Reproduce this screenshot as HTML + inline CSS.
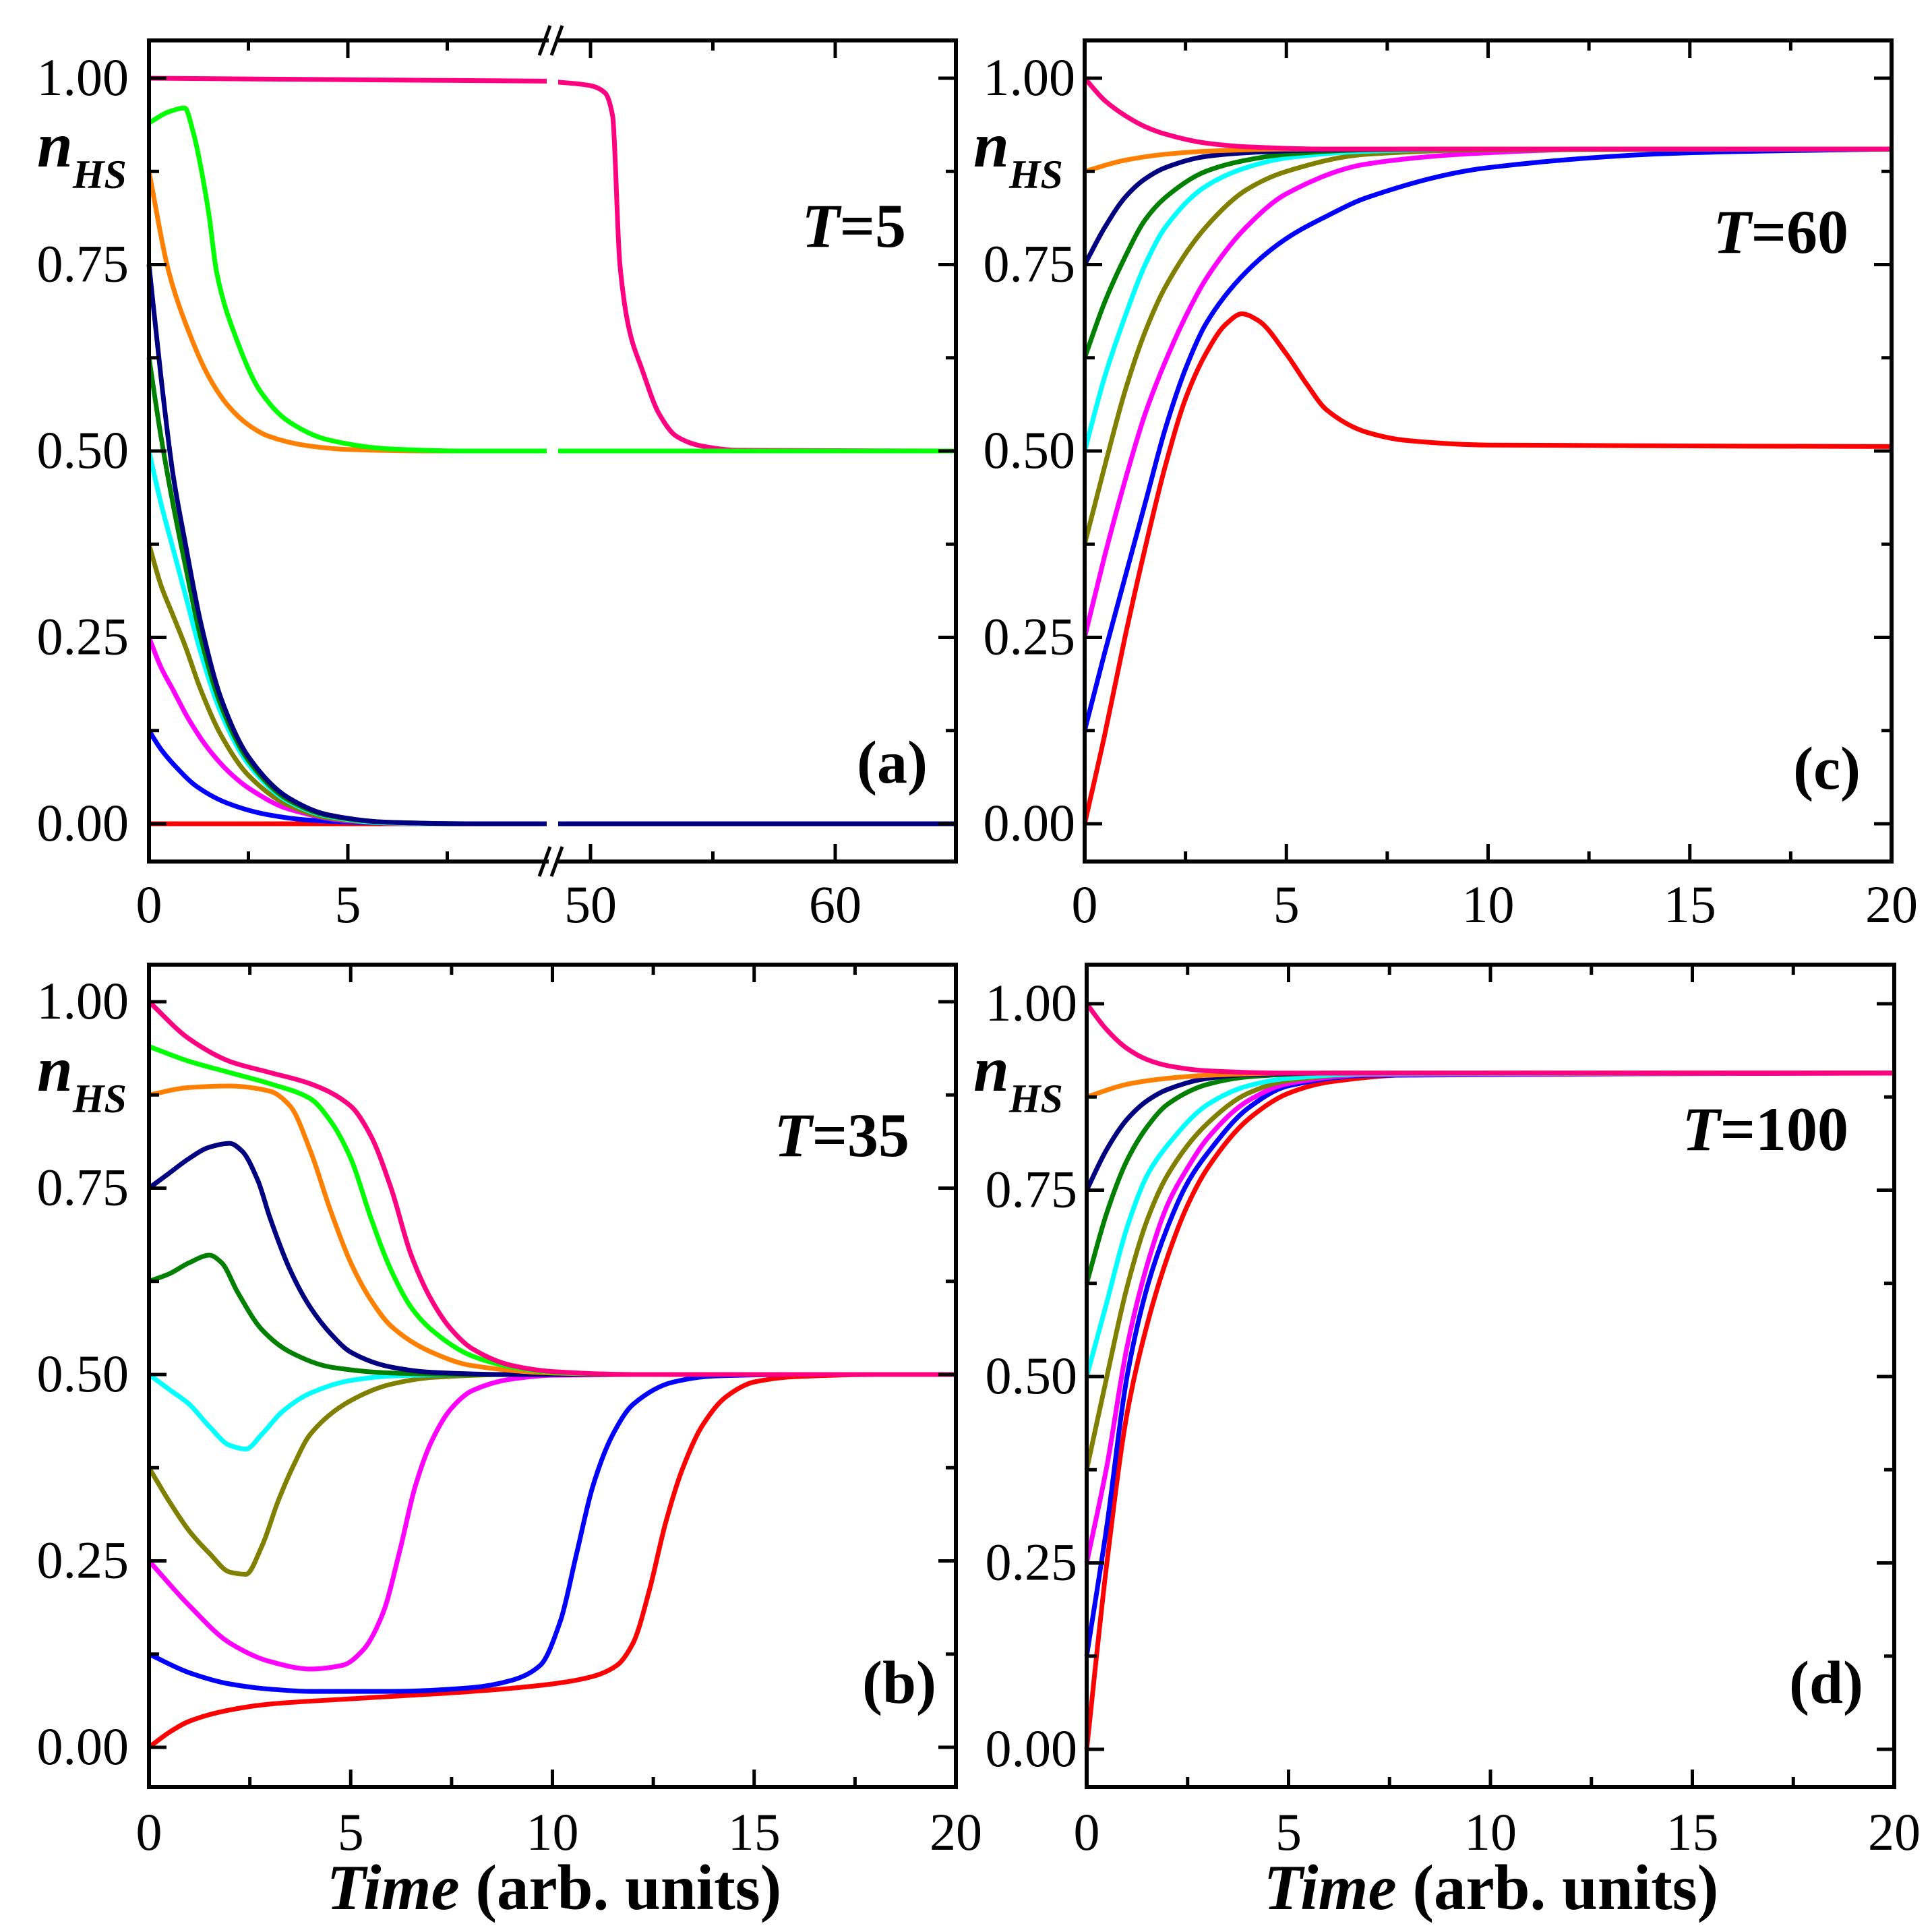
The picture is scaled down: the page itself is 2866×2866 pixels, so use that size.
<!DOCTYPE html>
<html><head><meta charset="utf-8">
<style>
html,body{margin:0;padding:0;background:#fff;}
svg{display:block;}
text{font-family:"Liberation Serif",serif;fill:#000;}
</style></head>
<body>
<svg id="chart" width="2866" height="2866" viewBox="0 0 2866 2866" xmlns="http://www.w3.org/2000/svg"></svg>
<script>
// ---- data: [time, n_HS] pairs per series ----
// Panel (a) T=5 (broken axis 0..10 | 48.6..65)
const a_pink=[[0,1],[5,0.998],[10,0.996],[48.6,0.995],[50,0.99],[50.6,0.98],[50.9,0.95],[51.2,0.75],[51.6,0.66],[52.1,0.61],[52.8,0.55],[53.5,0.52],[54.5,0.507],[56,0.501],[65,0.5]];
const a_green=[[0,0.94],[0.5,0.955],[0.9,0.96],[1.1,0.93],[1.5,0.82],[1.7,0.74],[2.2,0.65],[2.8,0.58],[3.5,0.54],[4.5,0.515],[6,0.503],[8,0.5],[10,0.5],[48.6,0.5],[65,0.5]];
const a_orange=[[0,0.875],[0.5,0.74],[1,0.66],[1.5,0.6],[2,0.56],[2.5,0.535],[3,0.52],[4,0.507],[5,0.502],[7,0.5],[10,0.5],[48.6,0.5],[65,0.5]];
const a_navy=[[0,0.75],[0.3,0.6],[0.6,0.47],[0.9,0.38],[1.3,0.27],[1.8,0.17],[2.5,0.09],[3.5,0.035],[4.5,0.012],[6,0.002],[8,0],[10,0],[48.6,0],[65,0]];
const a_dgreen=[[0,0.625],[0.3,0.52],[0.6,0.43],[0.9,0.35],[1.3,0.25],[1.8,0.16],[2.5,0.085],[3.5,0.032],[4.5,0.011],[6,0.002],[8,0],[10,0]];
const a_cyan=[[0,0.5],[0.3,0.43],[0.6,0.37],[0.9,0.31],[1.3,0.23],[1.8,0.15],[2.5,0.08],[3.5,0.03],[4.5,0.01],[6,0.001],[8,0],[10,0]];
const a_olive=[[0,0.375],[0.3,0.32],[0.6,0.28],[0.9,0.24],[1.3,0.18],[1.8,0.12],[2.5,0.065],[3.5,0.025],[4.5,0.008],[6,0.001],[8,0],[10,0]];
const a_magenta=[[0,0.25],[0.3,0.21],[0.6,0.18],[1,0.14],[1.5,0.1],[2,0.07],[2.5,0.048],[3.5,0.02],[5,0.004],[7,0],[10,0]];
const a_blue=[[0,0.125],[0.3,0.1],[0.7,0.075],[1.2,0.05],[2,0.027],[3,0.012],[4,0.005],[6,0.001],[8,0],[10,0]];
const a_red=[[0,0],[10,0]];
// Panel (c) T=60
const c_pink=[[0,1],[0.5,0.97],[1,0.95],[1.5,0.935],[2,0.925],[3,0.913],[4,0.908],[6,0.905],[20,0.905]];
const c_orange=[[0,0.875],[1,0.89],[2,0.898],[3,0.902],[5,0.905],[20,0.905]];
const c_navy=[[0,0.75],[0.5,0.8],[1,0.84],[1.5,0.865],[2,0.88],[3,0.895],[4,0.9],[6,0.904],[8,0.905],[20,0.905]];
const c_dgreen=[[0,0.625],[0.5,0.7],[1,0.76],[1.5,0.81],[2,0.84],[3,0.875],[4,0.89],[5,0.898],[7,0.904],[9,0.905],[20,0.905]];
const c_cyan=[[0,0.5],[0.5,0.6],[1,0.68],[1.5,0.75],[2,0.8],[3,0.855],[4,0.88],[5,0.893],[7,0.902],[10,0.905],[20,0.905]];
const c_olive=[[0,0.375],[0.5,0.48],[1,0.58],[1.5,0.66],[2,0.72],[3,0.8],[4,0.85],[5,0.875],[7,0.898],[10,0.904],[20,0.905]];
const c_magenta=[[0,0.25],[0.5,0.36],[1,0.46],[1.5,0.55],[2,0.62],[2.5,0.68],[3,0.73],[4,0.8],[5,0.845],[7,0.885],[10,0.9],[13,0.905],[20,0.905]];
const c_blue=[[0,0.125],[0.5,0.23],[1,0.33],[1.5,0.43],[2,0.53],[2.5,0.61],[3,0.67],[4,0.74],[5,0.785],[6,0.815],[7,0.84],[10,0.88],[15,0.9],[20,0.905]];
const c_red=[[0,0],[0.5,0.12],[1,0.25],[1.5,0.37],[2,0.48],[2.5,0.57],[3,0.63],[3.5,0.67],[3.9,0.684],[4.3,0.675],[5,0.63],[5.5,0.59],[6,0.555],[7,0.525],[8,0.514],[10,0.508],[20,0.506]];
// Panel (b) T=35
const b_pink=[[0,1],[1,0.95],[2,0.92],[3,0.905],[4,0.89],[5,0.86],[5.5,0.82],[6,0.75],[6.5,0.66],[7,0.6],[7.5,0.56],[8,0.535],[9,0.512],[10,0.504],[12,0.5],[20,0.5]];
const b_green=[[0,0.94],[1,0.92],[2,0.905],[3,0.89],[4,0.87],[4.5,0.84],[5,0.79],[5.5,0.71],[6,0.64],[6.5,0.59],[7,0.56],[8,0.525],[9,0.51],[10,0.503],[12,0.5],[20,0.5]];
const b_orange=[[0,0.875],[1,0.885],[2,0.887],[3,0.88],[3.5,0.86],[4,0.8],[4.5,0.72],[5,0.65],[5.5,0.6],[6,0.565],[7,0.53],[8,0.512],[10,0.502],[12,0.5],[20,0.5]];
const b_navy=[[0,0.75],[0.5,0.77],[1,0.79],[1.5,0.805],[2,0.81],[2.3,0.8],[2.7,0.76],[3,0.71],[3.5,0.64],[4,0.59],[4.5,0.555],[5,0.53],[6,0.51],[7,0.503],[9,0.5],[20,0.5]];
const b_dgreen=[[0,0.625],[0.5,0.635],[1,0.65],[1.5,0.66],[1.8,0.65],[2.2,0.61],[2.8,0.56],[3.5,0.53],[4.5,0.51],[6,0.502],[8,0.5],[20,0.5]];
const b_cyan=[[0,0.5],[0.5,0.48],[1,0.46],[1.5,0.43],[2,0.405],[2.4,0.4],[2.8,0.42],[3.3,0.45],[4,0.475],[5,0.492],[6,0.498],[8,0.5],[20,0.5]];
const b_olive=[[0,0.375],[0.5,0.33],[1,0.29],[1.5,0.26],[2,0.235],[2.4,0.232],[2.8,0.27],[3.2,0.33],[3.6,0.38],[4,0.42],[5,0.465],[6,0.487],[7,0.496],[9,0.5],[20,0.5]];
const b_magenta=[[0,0.25],[1,0.19],[2,0.14],[3,0.115],[4,0.105],[4.8,0.11],[5.3,0.13],[5.8,0.18],[6.2,0.26],[6.6,0.35],[7,0.41],[7.5,0.455],[8,0.478],[9,0.494],[10,0.499],[12,0.5],[20,0.5]];
const b_blue=[[0,0.125],[1,0.1],[2,0.085],[3,0.078],[4,0.075],[6,0.075],[8,0.08],[9,0.09],[9.7,0.11],[10.2,0.17],[10.6,0.26],[11,0.35],[11.5,0.42],[12,0.46],[13,0.49],[14,0.498],[16,0.5],[20,0.5]];
const b_red=[[0,0],[0.5,0.02],[1,0.035],[2,0.05],[3,0.058],[5,0.065],[8,0.075],[10,0.085],[11,0.095],[11.6,0.11],[12,0.14],[12.4,0.21],[12.8,0.3],[13.2,0.37],[13.7,0.43],[14.3,0.47],[15,0.49],[16,0.497],[18,0.5],[20,0.5]];
// Panel (d) T=100
const d_pink=[[0,1],[0.5,0.965],[1,0.94],[1.5,0.925],[2,0.917],[3,0.91],[5,0.907],[20,0.907]];
const d_orange=[[0,0.875],[1,0.892],[2,0.9],[3,0.904],[5,0.907],[20,0.907]];
const d_navy=[[0,0.75],[0.5,0.805],[1,0.845],[1.5,0.87],[2,0.885],[3,0.9],[4,0.905],[6,0.907],[20,0.907]];
const d_dgreen=[[0,0.625],[0.5,0.72],[1,0.79],[1.5,0.835],[2,0.865],[3,0.892],[4,0.902],[6,0.907],[20,0.907]];
const d_cyan=[[0,0.5],[0.5,0.6],[1,0.7],[1.5,0.77],[2,0.81],[3,0.865],[4,0.89],[5,0.9],[7,0.906],[20,0.907]];
const d_olive=[[0,0.375],[0.5,0.5],[1,0.62],[1.5,0.71],[2,0.77],[3,0.84],[4,0.88],[5,0.897],[7,0.906],[20,0.907]];
const d_magenta=[[0,0.25],[0.5,0.38],[1,0.54],[1.5,0.65],[2,0.73],[2.5,0.78],[3,0.82],[4,0.87],[5,0.893],[7,0.905],[20,0.907]];
const d_blue=[[0,0.125],[0.5,0.3],[1,0.5],[1.5,0.62],[2,0.7],[2.5,0.76],[3,0.8],[4,0.86],[5,0.89],[7,0.904],[20,0.907]];
const d_red=[[0,0],[0.5,0.25],[1,0.45],[1.5,0.57],[2,0.66],[2.5,0.73],[3,0.78],[4,0.845],[5,0.88],[6,0.895],[8,0.905],[10,0.907],[20,0.907]];

const colors={pink:'#ff0080',green:'#00ff00',orange:'#ff8000',navy:'#000080',dgreen:'#008000',cyan:'#00ffff',olive:'#808000',magenta:'#ff00ff',blue:'#0000ff',red:'#ff0000'};
const xTicks5=[0,5,10,15,20];
const yTicks=[0,0.25,0.5,0.75,1];
const yTickLabels=['0.00','0.25','0.50','0.75','1.00'];

const NS='http://www.w3.org/2000/svg';
const svg=document.getElementById('chart');
function mk(tag,attrs,parent){const e=document.createElementNS(NS,tag);for(const k in attrs)e.setAttribute(k,attrs[k]);(parent||svg).appendChild(e);return e;}
function txt(s,x,y,size,anchor,weight,style,parent){const t=mk('text',{x:x,y:y,'font-size':size,'text-anchor':anchor||'start','font-weight':weight||'normal','font-style':style||'normal'},parent);t.textContent=s;return t;}
// monotone cubic (Fritsch-Carlson) path in pixel space
function pathFrom(pts){
  const n=pts.length;
  const dx=[],m=[],t=new Array(n);
  for(let i=0;i<n-1;i++){dx.push(pts[i+1][0]-pts[i][0]);m.push((pts[i+1][1]-pts[i][1])/dx[i]);}
  t[0]=m[0];t[n-1]=m[n-2];
  for(let i=1;i<n-1;i++){
    if(m[i-1]*m[i]<=0)t[i]=0;
    else{const w1=2*dx[i]+dx[i-1],w2=dx[i]+2*dx[i-1];t[i]=(w1+w2)/(w1/m[i-1]+w2/m[i]);}
  }
  let d='M'+pts[0][0].toFixed(1)+','+pts[0][1].toFixed(1);
  for(let i=0;i<n-1;i++){
    const h=dx[i];
    d+=' C'+(pts[i][0]+h/3).toFixed(1)+','+(pts[i][1]+t[i]*h/3).toFixed(1)+' '+(pts[i+1][0]-h/3).toFixed(1)+','+(pts[i+1][1]-t[i+1]*h/3).toFixed(1)+' '+pts[i+1][0].toFixed(1)+','+pts[i+1][1].toFixed(1);
  }
  return d;
}

const panels=[
 {id:'a',L:221,R:1418,T:60,B:1278,y1:116,y0:1222,broken:true,T_label:'5',
  series:{red:a_red,blue:a_blue,magenta:a_magenta,olive:a_olive,cyan:a_cyan,dgreen:a_dgreen,navy:a_navy,orange:a_orange,pink:a_pink,green:a_green},
  tLab:[1344,366],pLab:[1376,1161],nLab:[55,247],xlabY:1368},
 {id:'c',L:1609,R:2806,T:60,B:1278,y1:116,y0:1222,T_label:'60',
  series:{red:c_red,blue:c_blue,magenta:c_magenta,olive:c_olive,cyan:c_cyan,dgreen:c_dgreen,navy:c_navy,orange:c_orange,pink:c_pink},
  tLab:[2742,375],pLab:[2760,1170],nLab:[1444,247],xlabY:1368},
 {id:'b',L:221,R:1418,T:1431,B:2651,y1:1486,y0:2592,T_label:'35',
  series:{red:b_red,blue:b_blue,magenta:b_magenta,olive:b_olive,cyan:b_cyan,dgreen:b_dgreen,navy:b_navy,orange:b_orange,green:b_green,pink:b_pink},
  tLab:[1349,1715],pLab:[1389,2526],nLab:[55,1618],xlabY:2744,timeX:822},
 {id:'d',L:1612,R:2810,T:1431,B:2651,y1:1489,y0:2595,T_label:'100',
  series:{red:d_red,blue:d_blue,magenta:d_magenta,olive:d_olive,cyan:d_cyan,dgreen:d_dgreen,navy:d_navy,orange:d_orange,pink:d_pink},
  tLab:[2742,1706],pLab:[2764,2526],nLab:[1444,1618],xlabY:2744,timeX:2212}
];

panels.forEach(p=>{
  const g=mk('g',{});
  
  
  const yS=v=>p.y0-(p.y0-p.y1)*v;
  let xS, segs;
  if(p.broken){
    xS=t=> t<30 ? p.L+t*59 : 876+(t-50)*36.3;
    segs=[[0,30],[30,100]];
  } else {
    xS=t=>p.L+(p.R-p.L)*t/20;
    segs=[[0,100]];
  }
  Object.keys(p.series).forEach(k=>{
    const data=p.series[k];
    segs.forEach(s=>{
      const pts=data.filter(d=>d[0]>=s[0]&&d[0]<s[1]).map(d=>[xS(d[0]),yS(d[1])]);
      if(pts.length<2)return;
      const el=mk('path',{d:pathFrom(pts),fill:'none',stroke:colors[k],'stroke-width':7,'stroke-linejoin':'round'},g);
      
      
    });
  });
  const fr=mk('rect',{x:p.L,y:p.T,width:p.R-p.L,height:p.B-p.T,fill:'none',stroke:'#000','stroke-width':6},g);
  
  
  for(let i=0;i<=8;i++){
    const v=i*0.125, y=yS(v), len=(i%2===0)?26:15;
    mk('line',{x1:p.L,y1:y,x2:p.L+len,y2:y,stroke:'#000','stroke-width':5},g);
    mk('line',{x1:p.R,y1:y,x2:p.R-len,y2:y,stroke:'#000','stroke-width':5},g);
  }
  yTicks.forEach((v,i)=>{
    const t=txt(yTickLabels[i],p.L-(p.id==='c'||p.id==='d'?14:30),yS(v)+25,78,'end','normal','normal',g);
    
    
  });
  let majors, minors, labels;
  if(p.broken){majors=[0,5,50,60];minors=[2.5,7.5,55];labels=['0','5','50','60'];}
  else {majors=xTicks5;minors=[2.5,7.5,12.5,17.5];labels=xTicks5.map(String);}
  majors.forEach((t,i)=>{
    const x=xS(t);
    mk('line',{x1:x,y1:p.B,x2:x,y2:p.B-26,stroke:'#000','stroke-width':5},g);
    mk('line',{x1:x,y1:p.T,x2:x,y2:p.T+26,stroke:'#000','stroke-width':5},g);
    const tl=txt(labels[i],x,p.xlabY,78,'middle','normal','normal',g);
    
    
  });
  minors.forEach(t=>{
    const x=xS(t);
    mk('line',{x1:x,y1:p.B,x2:x,y2:p.B-15,stroke:'#000','stroke-width':5},g);
    mk('line',{x1:x,y1:p.T,x2:x,y2:p.T+15,stroke:'#000','stroke-width':5},g);
  });
  if(p.broken){
    mk('rect',{x:814,y:p.T-8,width:14,height:p.B-p.T+16,fill:'#fff'},g);
    [p.T,p.B].forEach(y=>{
      const br=mk('g',{},g);
      
      
      mk('line',{x1:800,y1:y+22,x2:816,y2:y-22,stroke:'#000','stroke-width':5},br);
      mk('line',{x1:818,y1:y+22,x2:834,y2:y-22,stroke:'#000','stroke-width':5},br);
    });
  }
  const n=mk('text',{x:p.nLab[0],y:p.nLab[1],'font-size':95,'font-weight':'bold','font-style':'italic'},g);
  
  
  n.textContent='n';
  const sub=mk('tspan',{dy:32,'font-size':60},n);
  sub.textContent='HS';
  const tt=mk('text',{x:p.tLab[0],y:p.tLab[1],'font-size':92,'font-weight':'bold','text-anchor':'end'},g);
  
  
  const ti=mk('tspan',{'font-style':'italic'},tt); ti.textContent='T';
  const tr=mk('tspan',{},tt); tr.textContent='='+p.T_label;
  const pl=txt('('+p.id+')',p.pLab[0],p.pLab[1],90,'end','bold','normal',g);
  
  
  if(p.timeX){
    const xt=mk('text',{x:p.timeX,y:2832,'font-size':95,'font-weight':'bold','text-anchor':'middle'},g);
    
    
    const a=mk('tspan',{'font-style':'italic'},xt); a.textContent='Time';
    const b=mk('tspan',{},xt); b.textContent=' (arb. units)';
  }
});
</script>
</body></html>
